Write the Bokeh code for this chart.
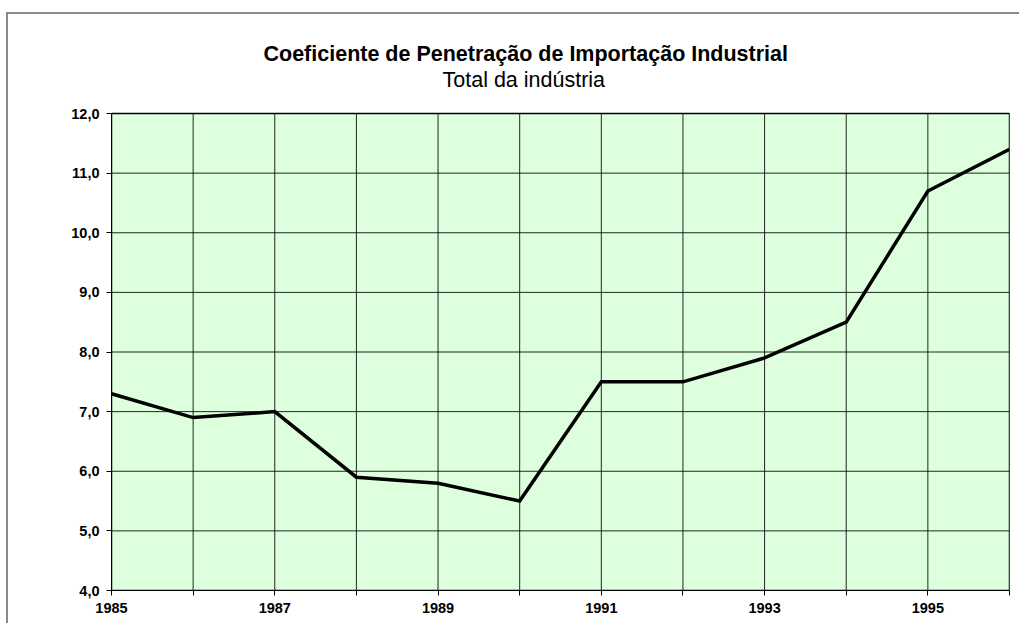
from bokeh.plotting import figure
from bokeh.models import FixedTicker, Label
from bokeh.embed import file_html
from bokeh.resources import INLINE

years = [1985, 1986, 1987, 1988, 1989, 1990, 1991, 1992, 1993, 1994, 1995, 1996]
values = [7.3, 6.9, 7.0, 5.9, 5.8, 5.5, 7.5, 7.5, 7.9, 8.5, 10.7, 11.4]
y_ticks = [4, 5, 6, 7, 8, 9, 10, 11, 12]
y_tick_labels = ["4,0", "5,0", "6,0", "7,0", "8,0", "9,0", "10,0", "11,0", "12,0"]
x_tick_labels = ["1985", "", "1987", "", "1989", "", "1991", "", "1993", "", "1995", ""]

title_text = "Coeficiente de Penetração de Importação Industrial"
subtitle_text = "Total da indústria"

FONT = "Liberation Sans"
GREEN = "#DDFFDD"

# layout (pixels)
CANVAS_H = 611
BOTTOM_PAD = 35
PLOT_AREA_H = 477          # height of the green plotting area
TITLE_SPACE = 99           # space above the green area, inside the frame
frame_h = CANVAS_H - BOTTOM_PAD
y_lo, y_hi = y_ticks[0], y_ticks[-1]
y_top = y_hi + TITLE_SPACE * (y_hi - y_lo) / PLOT_AREA_H

p = figure(width=1013, height=CANVAS_H, output_backend="svg", toolbar_location=None,
           x_range=(years[0], years[-1]), y_range=(y_lo, y_top),
           min_border_left=103, min_border_right=12, min_border_top=0,
           min_border_bottom=BOTTOM_PAD, margin=(12, 0, 0, 6))
p.styles = {"border-left": "2px solid #8a8a8a", "border-top": "2px solid #8a8a8a"}

p.background_fill_color = "white"
p.border_fill_color = "white"
p.outline_line_color = None
p.xgrid.visible = False
p.ygrid.visible = False

# plotting area background
p.quad(left=[years[0]], right=[years[-1]], bottom=[y_lo], top=[y_hi],
       fill_color=GREEN, line_color=None)
# grid lines
p.segment(x0=years, y0=[y_lo] * len(years), x1=years, y1=[y_hi] * len(years),
          line_color="black", line_alpha=0.85, line_width=1)
p.segment(x0=[years[0]] * len(y_ticks), y0=y_ticks, x1=[years[-1]] * len(y_ticks), y1=y_ticks,
          line_color="black", line_alpha=0.85, line_width=1)
# plot area border
p.quad(left=[years[0]], right=[years[-1]], bottom=[y_lo], top=[y_hi],
       fill_color=None, line_color="black", line_width=1.5)

p.line(years, values, line_color="black", line_width=3.5, line_join="miter")

p.xaxis.ticker = FixedTicker(ticks=years)
p.xaxis.major_label_overrides = {y: l for y, l in zip(years, x_tick_labels)}
p.yaxis.ticker = FixedTicker(ticks=y_ticks)
p.yaxis.major_label_overrides = {t: l for t, l in zip(y_ticks, y_tick_labels)}
p.yaxis.bounds = (y_lo, y_hi)

for ax in (p.xaxis, p.yaxis):
    ax.axis_line_color = "black"
    ax.axis_line_width = 1
    ax.major_tick_line_color = "black"
    ax.major_tick_out = 5
    ax.major_tick_in = 0
    ax.minor_tick_line_color = None
    ax.major_label_text_font = FONT
    ax.major_label_text_font_size = "14.5px"
    ax.major_label_text_font_style = "bold"
    ax.major_label_text_color = "black"
p.xaxis.major_label_standoff = 7
p.yaxis.major_label_standoff = 7

# titles (screen units: from frame left, upward from frame bottom)
p.add_layout(Label(x=152, y=frame_h - 39, x_units="screen", y_units="screen",
                   text=title_text, text_align="left", text_baseline="alphabetic",
                   text_font=FONT, text_font_size="21.5px", text_font_style="bold",
                   text_color="black"))
p.add_layout(Label(x=331, y=frame_h - 65, x_units="screen", y_units="screen",
                   text=subtitle_text, text_align="left", text_baseline="alphabetic",
                   text_font=FONT, text_font_size="21.5px", text_font_style="normal",
                   text_color="black"))

open("out.html", "w").write(file_html(p, INLINE))
